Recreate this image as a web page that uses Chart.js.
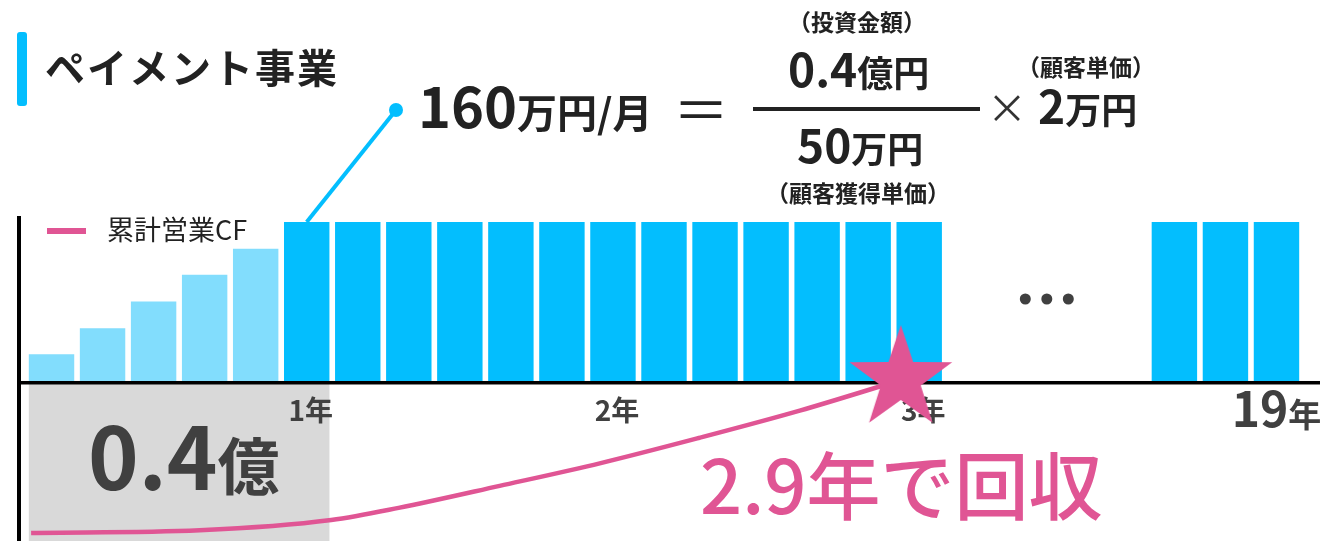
<!DOCTYPE html>
<html lang="ja">
<head>
  <meta charset="UTF-8">
  <title>ペイメント事業</title>
  <script src="https://cdn.jsdelivr.net/npm/chart.js"></script>
  <style>
    html, body { margin: 0; padding: 0; background: #fff; }
    #wrap { position: relative; width: 1320px; height: 541px; }
  </style>
</head>
<body>
  <div id="wrap"><canvas id="chart"></canvas></div>

  <script>
    // 棒：2か月ごとの営業CF（万円/月）。18本目のあと「…」で19年目まで省略
    const periods = ['2月', '4月', '6月', '8月', '10月', '1年',
      '1年2月', '1年4月', '1年6月', '1年8月', '1年10月', '2年',
      '2年2月', '2年4月', '2年6月', '2年8月', '2年10月', '3年',
      '', '', '', '', '18年8月', '18年10月', '19年'];
    const revenue = [27, 53, 80, 107, 133, 160,
      160, 160, 160, 160, 160, 160,
      160, 160, 160, 160, 160, 160,
      null, null, null, null, 160, 160, 160];
    const fullRevenue = 160;

    // x軸の目盛り（棒の位置と表示）
    const tickIndex = [5, 11, 17, 24];
    const tickYears = ['1', '2', '3', '19'];

    // 累計営業CF（万円）：経過年数ごと
    const cfYears = [0.1, 0.65, 1.08, 1.3, 1.63, 1.96, 2.28, 2.61, 2.93];
    const cfValues = [-4000, -3930, -3660, -3340, -2760, -2160, -1500, -780, 0];

    // 式の数値
    const monthlyCF = '160';
    const investAmount = '0.4';
    const cacAmount = '50';
    const arpuAmount = '2';
    const payback = '2.9';

    const BLUE = '#03BEFE';
    const LIGHT = '#82DDFD';
    const PINK = '#E05594';
    const INK = '#222222';
    const GRAY = '#404040';
    const JP = '"Noto Sans CJK JP", "Noto Sans JP", sans-serif';

    function font(size, weight) { return (weight || 400) + ' ' + size + 'px ' + JP; }
    function put(ctx, s, x, y, f, color, align) {
      ctx.font = f;
      ctx.fillStyle = color;
      ctx.textAlign = align || 'left';
      ctx.textBaseline = 'alphabetic';
      ctx.fillText(s, x, y);
      return ctx.measureText(s).width;
    }
    // 数字＋単位（大きさ違い）を左から続けて描く
    function numUnit(ctx, num, unit, x, y, numSize, unitSize, color) {
      const w = put(ctx, num, x, y, font(numSize, 700), color);
      put(ctx, unit, x + w, y, font(unitSize, 700), color);
    }

    // 回収点の星
    const star = document.createElement('canvas');
    star.width = 116; star.height = 116;
    (function () {
      const c = star.getContext('2d');
      c.fillStyle = PINK;
      c.beginPath();
      for (let i = 0; i < 10; i++) {
        const r = i % 2 ? 21 : 54;
        const a = -Math.PI / 2 + i * Math.PI / 5;
        c.lineTo(61 + r * Math.cos(a), 56 + r * Math.sin(a));
      }
      c.closePath();
      c.fill();
    })();

    const decor = {
      id: 'decor',
      beforeDatasetsDraw(chart) {
        const { ctx, chartArea, scales } = chart;
        const x = scales.x, y = scales.y;
        const bars = chart.getDatasetMeta(1).data;
        const bw = bars[0].width;
        const y0 = y.getPixelForValue(0);
        ctx.save();
        // 投資額の箱
        const bl = x.getPixelForValue(0) - bw / 2;
        const br = x.getPixelForValue(5) + bw / 2;
        ctx.fillStyle = '#D9D9D9';
        ctx.fillRect(bl, y0 + 3, br - bl, chart.height - y0 - 3);
        numUnit(ctx, investAmount, '億', 88, 490, 86, 62, GRAY);
        // 軸
        ctx.fillStyle = '#000';
        ctx.fillRect(17, chartArea.top, 4, chart.height - chartArea.top);
        ctx.fillRect(17, y0, chart.width - 17, 3.5);
        // x軸の目盛り
        tickIndex.forEach((idx, i) => {
          const cx = x.getPixelForValue(idx);
          if (i === tickIndex.length - 1) {
            ctx.font = font(48, 700);
            const w1 = ctx.measureText(tickYears[i]).width;
            ctx.font = font(33, 700);
            const w2 = ctx.measureText('年').width;
            numUnit(ctx, tickYears[i], '年', cx - (w1 + w2) / 2, 427, 48, 33, GRAY);
          } else {
            put(ctx, tickYears[i] + '年', cx + 4, 421, font(28, 700), GRAY, 'center');
          }
        });
        // 凡例
        ctx.fillStyle = PINK;
        ctx.fillRect(47, 228, 39, 6);
        put(ctx, '累計営業CF', 107, 240, font(27, 400), INK);
        ctx.restore();
      },
      afterDraw(chart) {
        const { ctx, scales } = chart;
        const x = scales.x, y = scales.y;
        ctx.save();
        // 省略記号
        const gx = x.getPixelForValue(19.5);
        ctx.fillStyle = GRAY;
        [-21.5, 0, 21.5].forEach(d => {
          ctx.beginPath();
          ctx.arc(gx + d, 299, 5.5, 0, Math.PI * 2);
          ctx.fill();
        });
        // タイトル
        ctx.fillStyle = BLUE;
        ctx.beginPath();
        ctx.roundRect(17, 32, 10, 74, 3);
        ctx.fill();
        let tx = 45;
        for (const ch of 'ペイメント事業') {
          tx += put(ctx, ch, tx, 83, font(40, 700), INK) + 2;
        }
        // 引き出し線
        const px = x.getPixelForValue(5), py = y.getPixelForValue(revenue[5]);
        ctx.strokeStyle = BLUE;
        ctx.lineWidth = 4;
        ctx.beginPath();
        ctx.moveTo(396, 110);
        ctx.lineTo(px, py);
        ctx.stroke();
        ctx.fillStyle = BLUE;
        ctx.beginPath();
        ctx.arc(396, 110, 7, 0, Math.PI * 2);
        ctx.fill();
        // 式
        numUnit(ctx, monthlyCF, '万円/月', 418, 128, 56, 40, INK);
        put(ctx, '＝', 701, 131, font(56, 400), INK, 'center');
        ctx.fillStyle = INK;
        ctx.fillRect(753, 107, 227, 4);
        put(ctx, '（投資金額）', 857, 31, font(23, 700), INK, 'center');
        numUnit(ctx, investAmount, '億円', 788, 87, 46, 36, INK);
        numUnit(ctx, cacAmount, '万円', 797, 163, 46, 36, INK);
        put(ctx, '（顧客獲得単価）', 858, 202, font(23, 700), INK, 'center');
        put(ctx, '×', 1007, 123, font(40, 400), '#333', 'center');
        put(ctx, '（顧客単価）', 1086, 76, font(23, 700), INK, 'center');
        numUnit(ctx, arpuAmount, '万円', 1038, 124, 46, 36, INK);
        // 回収年数
        put(ctx, payback + '年で回収', 700, 514, font(74, 500), PINK);
        ctx.restore();
      }
    };

    new Chart(document.getElementById('chart'), {
      type: 'bar',
      data: {
        labels: periods,
        datasets: [{
          type: 'line',
          label: '累計営業CF',
          data: cfYears.map((v, i) => ({ x: v, y: cfValues[i] })),
          xAxisID: 'xl',
          yAxisID: 'y2',
          borderColor: PINK,
          borderWidth: 4.5,
          cubicInterpolationMode: 'monotone',
          pointStyle: c => c.dataIndex === cfYears.length - 1 ? star : 'circle',
          pointRadius: c => c.dataIndex === cfYears.length - 1 ? 5 : 0,
          clip: false,
          order: 0
        }, {
          label: '営業CF',
          data: revenue,
          backgroundColor: revenue.map(v => v < fullRevenue ? LIGHT : BLUE),
          barPercentage: 0.89,
          categoryPercentage: 1,
          grouped: false,
          order: 1
        }]
      },
      options: {
        responsive: true,
        maintainAspectRatio: false,
        animation: false,
        layout: { autoPadding: false, padding: { top: 216, left: 26, right: 18, bottom: 0 } },
        plugins: { legend: { display: false }, tooltip: { enabled: false } },
        scales: {
          x: { display: false },
          xl: { type: 'linear', display: false, offset: false, min: 1 / 12, max: 25.5 / 6 },
          y: { display: false, min: -161, max: 166 },
          y2: { display: false, min: -4211, max: 4342 }
        }
      },
      plugins: [decor]
    });
  </script>
</body>
</html>
